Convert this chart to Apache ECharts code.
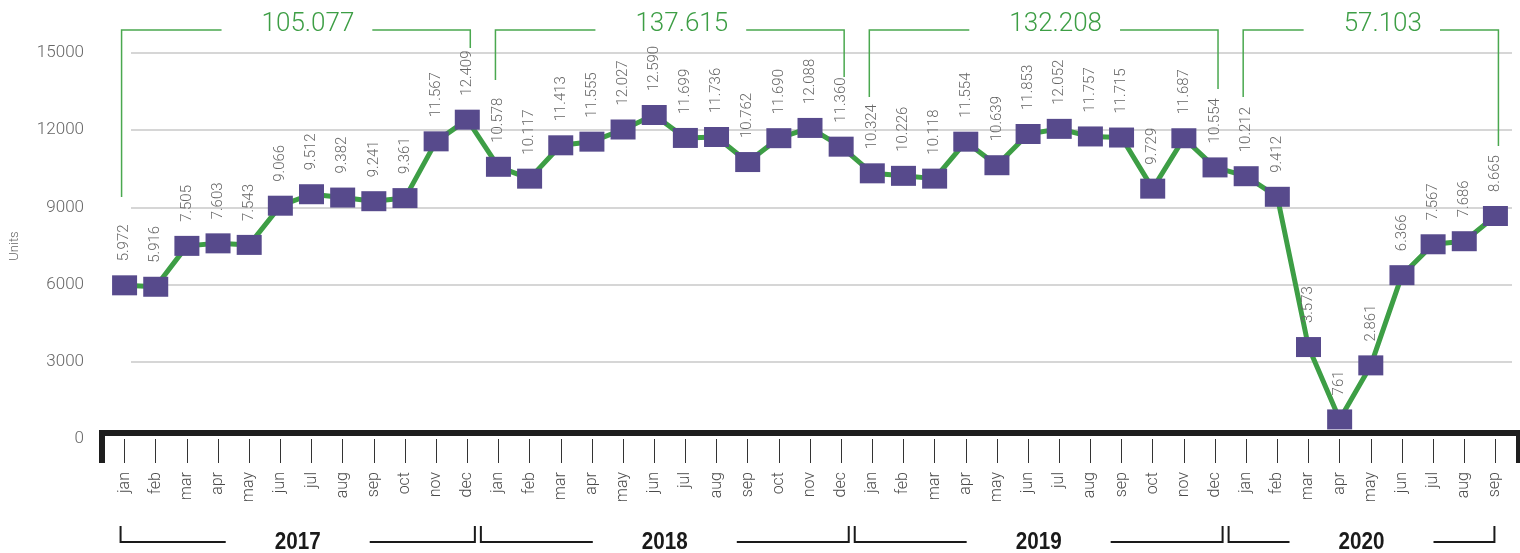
<!DOCTYPE html>
<html>
<head>
<meta charset="utf-8">
<script src="https://cdn.jsdelivr.net/npm/echarts@6/dist/echarts.min.js"></script>
<style>
html, body { margin: 0; padding: 0; background: #fff; }
#chart { width: 1520px; height: 553px; }
</style>
</head>
<body>
<div id="chart"></div>
<script>
// data
var years = ['2017', '2018', '2019', '2020'];
var monthNames = ['jan', 'feb', 'mar', 'apr', 'may', 'jun', 'jul', 'aug', 'sep', 'oct', 'nov', 'dec'];
var units2017 = [5972, 5916, 7505, 7603, 7543, 9066, 9512, 9382, 9241, 9361, 11567, 12409];
var units2018 = [10578, 10117, 11413, 11555, 12027, 12590, 11699, 11736, 10762, 11690, 12088, 11360];
var units2019 = [10324, 10226, 10118, 11554, 10639, 11853, 12052, 11757, 11715, 9729, 11687, 10554];
var units2020 = [10212, 9412, 3573, 761, 2861, 6366, 7567, 7686, 8665];
var yearValues = [units2017, units2018, units2019, units2020];
var yMin = 0, yMax = 15000, yStep = 3000;

// layout for the hand drawn brackets
var topBracketY = 30;
var topBracketTips = [[197, 48], [80, 77], [97, 89], [97, 146]];
var bottomBracketY = 542;

var FONT = 'Roboto, "Liberation Sans", sans-serif';
var GRAY = '#666';
var GREEN = '#3d9e45';

var categories = [];
var values = [];
var yearStart = [];
yearValues.forEach(function (arr) {
  yearStart.push(values.length);
  arr.forEach(function (v, i) {
    categories.push(monthNames[i]);
    values.push(v);
  });
});

function fmt(v) {
  return String(v).replace(/\B(?=(\d{3})+(?!\d))/g, '.');
}

var option = {
  animation: false,
  backgroundColor: '#fff',
  textStyle: { fontFamily: FONT },
  grid: [
    { left: 106, right: 9, top: 53, bottom: 114 },
    { left: 131, right: 8, top: 53, bottom: 114 }
  ],
  xAxis: [
    {
      type: 'category',
      gridIndex: 0,
      data: categories,
      offset: 1,
      axisLine: { show: false },
      axisTick: { show: true, alignWithLabel: true, length: 24, lineStyle: { color: '#333', width: 1 } },
      axisLabel: {
        interval: 0, rotate: 90, margin: 32,
        color: '#4a4a4a', fontSize: 16, fontWeight: 300, fontFamily: FONT
      }
    },
    { type: 'value', gridIndex: 1, show: false }
  ],
  yAxis: [
    {
      type: 'value',
      gridIndex: 0,
      min: yMin, max: yMax, interval: yStep,
      name: 'Units',
      nameLocation: 'middle',
      nameGap: 88,
      nameRotate: 90,
      nameTextStyle: { color: GRAY, fontSize: 13, fontWeight: 300, fontFamily: FONT },
      axisLine: { show: false },
      axisTick: { show: false },
      splitLine: { show: false },
      axisLabel: {
        margin: 25, color: GRAY, fontSize: 17, fontWeight: 300, fontFamily: FONT,
        formatter: function (v) { return String(v); }
      }
    },
    {
      type: 'value',
      gridIndex: 1,
      min: yMin, max: yMax, interval: yStep,
      axisLine: { show: false },
      axisTick: { show: false },
      axisLabel: { show: false },
      splitLine: { show: true, showMinLine: false, lineStyle: { color: '#c8c8c8', width: 1.5 } }
    }
  ],
  series: [
    {
      name: 'Units',
      type: 'line',
      xAxisIndex: 0,
      yAxisIndex: 0,
      data: values,
      symbol: 'rect',
      symbolSize: [25, 20],
      showAllSymbol: true,
      itemStyle: { color: '#574a8c' },
      lineStyle: { color: GREEN, width: 5 },
      labelLayout: { hideOverlap: false },
      label: {
        show: true,
        position: 'top',
        distance: 14,
        rotate: 90,
        align: 'left',
        verticalAlign: 'middle',
        color: GRAY,
        fontSize: 15,
        fontWeight: 300,
        fontFamily: FONT,
        formatter: function (p) { return fmt(p.value); }
      }
    }
  ]
};

var chart = echarts.init(document.getElementById('chart'));
chart.setOption(option);

// decorations: axis bracket, year sums on top, year labels below
var measure = document.createElement('canvas').getContext('2d');
function textWidth(t, font) { measure.font = font; return measure.measureText(t).width; }

var p0 = chart.convertToPixel({ xAxisIndex: 0 }, 0);
var p1 = chart.convertToPixel({ xAxisIndex: 0 }, 1);
var bw = p1 - p0;
function px(i) { return p0 + bw * i; }
var y0 = chart.convertToPixel({ yAxisIndex: 0 }, 0);

var graphics = [];
var n = values.length;
graphics.push({
  type: 'polyline',
  shape: { points: [[px(-0.5) - 7, y0 + 24], [px(-0.5) - 7, y0 - 6], [px(n - 0.5) + 8, y0 - 6], [px(n - 0.5) + 8, y0 + 24]] },
  style: { stroke: '#1e1e1e', lineWidth: 6, fill: null, lineJoin: 'miter' },
  z: 10
});

var sumFont = '300 26px ' + FONT;
var yearFont = 'bold 24px "Liberation Sans", Arial, sans-serif';

function boundary(k) {
  // between last month of year k and first of year k+1
  var last = yearStart[k] + yearValues[k].length - 1;
  return (px(last) + px(last + 1)) / 2 - 5;
}

years.forEach(function (yr, k) {
  var s = yearStart[k];
  var e = s + yearValues[k].length - 1;
  var total = yearValues[k].reduce(function (a, b) { return a + b; }, 0);
  var label = fmt(total);

  // top bracket
  var L = px(s) - 3, R = px(e) + 3;
  var cx = (L + R) / 2 + 12;
  var hw = textWidth(label, sumFont) / 2;
  graphics.push({
    type: 'polyline',
    shape: { points: [[L, topBracketTips[k][0]], [L, topBracketY], [cx - hw - 40, topBracketY]] },
    style: { stroke: '#4aa84f', lineWidth: 1.5, fill: null }
  });
  graphics.push({
    type: 'polyline',
    shape: { points: [[cx + hw + 18, topBracketY], [R, topBracketY], [R, topBracketTips[k][1]]] },
    style: { stroke: '#4aa84f', lineWidth: 1.5, fill: null }
  });
  graphics.push({
    type: 'text',
    x: cx, y: 24,
    style: { text: label, fill: GREEN, font: sumFont, textAlign: 'center', textVerticalAlign: 'middle' }
  });

  // bottom year bracket
  var bL = k === 0 ? px(s) - 4 : boundary(k - 1) + 3;
  var bR = k === years.length - 1 ? px(e) - 1 : boundary(k) - 3;
  var bc = (bL + bR) / 2;
  graphics.push({
    type: 'polyline',
    shape: { points: [[bL, bottomBracketY - 16], [bL, bottomBracketY], [bc - 72, bottomBracketY]] },
    style: { stroke: '#1a1a1a', lineWidth: 2, fill: null }
  });
  graphics.push({
    type: 'polyline',
    shape: { points: [[bc + 72, bottomBracketY], [bR, bottomBracketY], [bR, bottomBracketY - 16]] },
    style: { stroke: '#1a1a1a', lineWidth: 2, fill: null }
  });
  graphics.push({
    type: 'text',
    x: bc, y: bottomBracketY,
    scaleX: 0.86,
    style: { text: yr, fill: '#1a1a1a', font: yearFont, textAlign: 'center', textVerticalAlign: 'middle' }
  });
});

chart.setOption({ graphic: graphics });
</script>
</body>
</html>
